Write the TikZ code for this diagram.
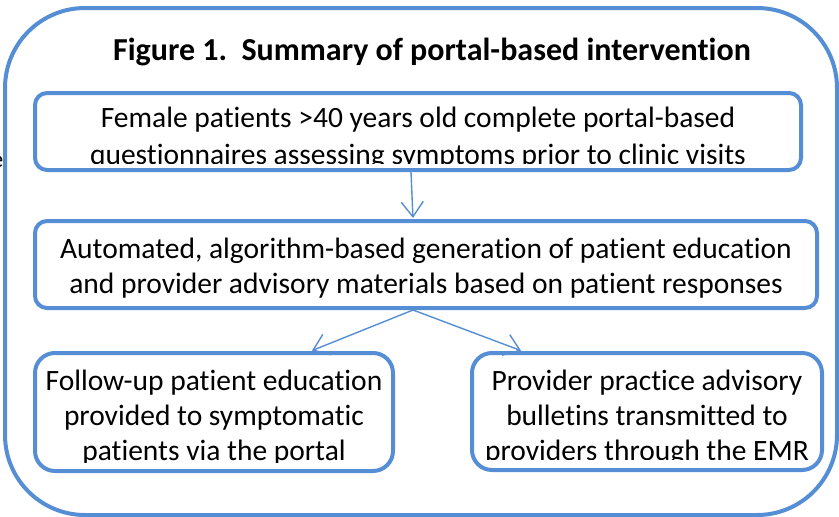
\documentclass[tikz,border=0pt]{standalone}
\usepackage{fontspec}
\setmainfont{Carlito}[Ligatures=NoCommon]
\usetikzlibrary{arrows.meta,positioning}
\definecolor{boxblue}{RGB}{85,142,213}
\tikzset{
  stagebox/.style={draw=boxblue, line width=4pt, rounded corners=12pt, inner sep=0pt},
  stagetext/.style={align=center, inner sep=0pt, anchor=north, font=\fontsize{29.5}{35}\selectfont},
  flowarrow/.style={draw=boxblue, line width=1.4pt, -{Straight Barb[length=15pt,width=22pt,line width=1.4pt]}},
}
\begin{document}
\begin{tikzpicture}[x=1pt, y=-1pt]
    \useasboundingbox (0,0) rectangle (839,517);

    % Title
    \node[font=\bfseries\fontsize{32}{36}\selectfont, anchor=base] (title) at (432,60) {Figure 1.\ \ Summary of portal-based intervention};

    % Texts of the steps
    \node[stagetext, font=\fontsize{29.5}{36.5}\selectfont] (screentext) at (418,107)
        {Female patients >40 years old complete portal-based\\questionnaires assessing symptoms prior to clinic visits};
    \node[stagetext] (generatetext) at (426,238)
        {Automated, algorithm-based generation of patient education\\and provider advisory materials based on patient responses};
    \node[stagetext] (patienttext) at (214,370)
        {Follow-up patient education\\provided to symptomatic\\patients via the portal};
    \node[stagetext] (providertext) at (647,369.5)
        {Provider practice advisory\\bulletins transmitted to\\providers through the EMR};

    % Text cut off at the box bottoms
    \fill[white] (45,163.5) rectangle (790,168.5);
    \fill[white] (45,463) rectangle (383,469.5);
    \fill[white] (482,460) rectangle (812,468.5);

    % Boxes
    \node[stagebox, minimum width=766pt, minimum height=77pt] (screen) at (418,131.5) {};
    \node[stagebox, minimum width=782pt, minimum height=87pt] (generate) at (426,264.5) {};
    \node[stagebox, minimum width=358pt, minimum height=118pt, rounded corners=20pt] (patient) at (214,412) {};
    \node[stagebox, minimum width=350pt, minimum height=117pt, rounded corners=20pt] (provider) at (647,411.5) {};

    % Arrows
    \draw[flowarrow, shorten >=1pt] ([xshift=-7pt]screen.south) -- ([xshift=-13pt]generate.north);
    \draw[flowarrow, shorten >=1pt] ([xshift=-13pt]generate.south) -- ([xshift=97pt]patient.north);
    \draw[flowarrow, shorten >=1pt] ([xshift=-13pt]generate.south) -- ([xshift=-125pt]provider.north);

    % Outer frame
    \draw[draw=boxblue, line width=4pt, rounded corners=80pt] (5,8) rectangle (837,515);

    % Stray letter at the left edge
    \node[font=\fontsize{24}{28}\selectfont, anchor=base east, inner sep=0pt] (stray) at (3.5,167) {e};
\end{tikzpicture}
\end{document}
